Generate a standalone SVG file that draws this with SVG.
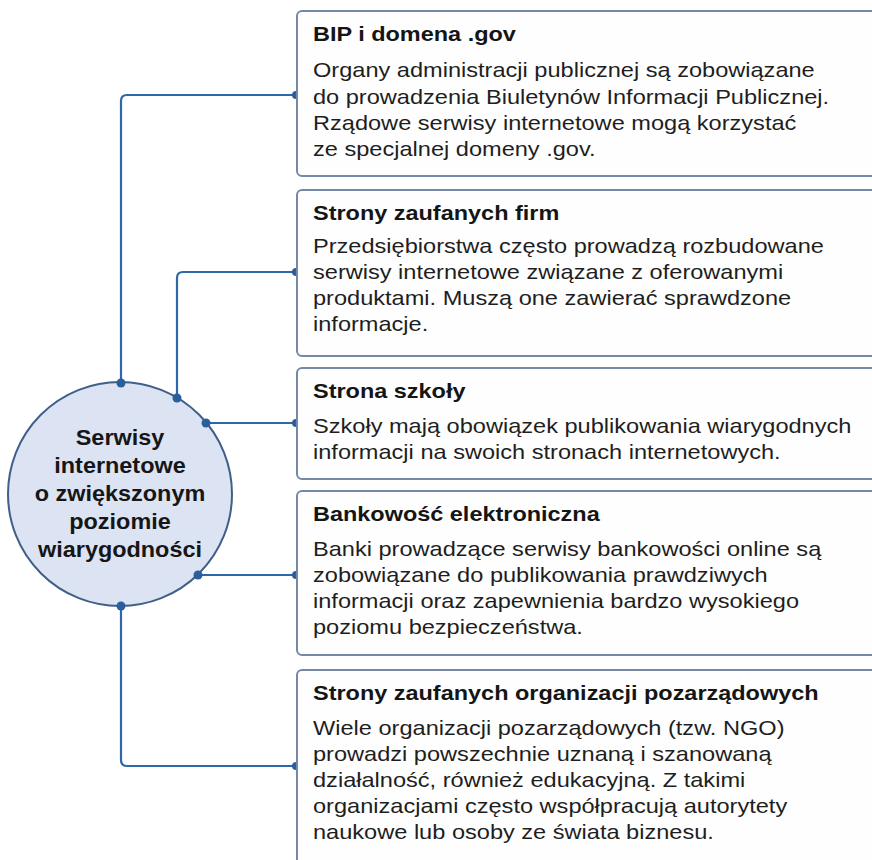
<svg xmlns="http://www.w3.org/2000/svg" width="872" height="860" viewBox="0 0 872 860">
<style>
.box{fill:#fefefe;stroke:#7589a6;stroke-width:2}
.con{fill:none;stroke:#2f68a8;stroke-width:2.2}
.dot{fill:#2a5f9c}
.h{font-family:"Liberation Sans",Arial,sans-serif;font-size:20.5px;font-weight:bold;fill:#151515}
.b{font-family:"Liberation Sans",Arial,sans-serif;font-size:20.6px;fill:#1e1e1e}
.c{font-family:"Liberation Sans",Arial,sans-serif;font-size:21.5px;font-weight:bold;fill:#161616;text-anchor:middle}
</style>
<rect width="872" height="860" fill="#ffffff"/>
<g id="connectors">
<path class="con" d="M121,383 V101 Q121,95 127,95 H296"/>
<path class="con" d="M177,398 V278 Q177,272 183,272 H296"/>
<path class="con" d="M206,423 H296"/>
<path class="con" d="M198,575 H296"/>
<path class="con" d="M121,606 V760 Q121,766 127,766 H296"/>
<circle class="dot" cx="296" cy="95" r="4"/>
<circle class="dot" cx="296" cy="272" r="4"/>
<circle class="dot" cx="296" cy="423" r="4"/>
<circle class="dot" cx="296" cy="575" r="4"/>
<circle class="dot" cx="296" cy="766" r="4"/>
</g>
<g id="center">
<circle cx="120" cy="494" r="112" fill="#dce3f3" stroke="#3f5f88" stroke-width="2"/>
<circle class="dot" cx="121" cy="383" r="4.5"/>
<circle class="dot" cx="177" cy="398" r="4.5"/>
<circle class="dot" cx="206" cy="423" r="4.5"/>
<circle class="dot" cx="198" cy="575" r="4.5"/>
<circle class="dot" cx="121" cy="606" r="4.5"/>
<g transform="translate(120 0) scale(1.09 1)">
<text class="c" x="0" y="445">Serwisy</text>
<text class="c" x="0" y="473">internetowe</text>
<text class="c" x="0" y="501">o zwiększonym</text>
<text class="c" x="0" y="529">poziomie</text>
<text class="c" x="0" y="557">wiarygodności</text>
</g>
</g>
<g id="box1">
<rect class="box" x="297" y="11" width="600" height="165" rx="5"/>
<g transform="translate(313 0) scale(1.145 1)">
<text class="h" x="0" y="41">BIP i domena .gov</text>
<text class="b" x="0" y="77">Organy administracji publicznej są zobowiązane</text>
<text class="b" x="0" y="104">do prowadzenia Biuletynów Informacji Publicznej.</text>
<text class="b" x="0" y="130">Rządowe serwisy internetowe mogą korzystać</text>
<text class="b" x="0" y="156">ze specjalnej domeny .gov.</text>
</g>
</g>
<g id="box2">
<rect class="box" x="297" y="190" width="600" height="166" rx="5"/>
<g transform="translate(313 0) scale(1.145 1)">
<text class="h" x="0" y="220">Strony zaufanych firm</text>
<text class="b" x="0" y="253">Przedsiębiorstwa często prowadzą rozbudowane</text>
<text class="b" x="0" y="279">serwisy internetowe związane z oferowanymi</text>
<text class="b" x="0" y="305">produktami. Muszą one zawierać sprawdzone</text>
<text class="b" x="0" y="331">informacje.</text>
</g>
</g>
<g id="box3">
<rect class="box" x="297" y="368" width="600" height="111" rx="5"/>
<g transform="translate(313 0) scale(1.145 1)">
<text class="h" x="0" y="398">Strona szkoły</text>
<text class="b" x="0" y="433">Szkoły mają obowiązek publikowania wiarygodnych</text>
<text class="b" x="0" y="459">informacji na swoich stronach internetowych.</text>
</g>
</g>
<g id="box4">
<rect class="box" x="297" y="491" width="600" height="164" rx="5"/>
<g transform="translate(313 0) scale(1.145 1)">
<text class="h" x="0" y="521">Bankowość elektroniczna</text>
<text class="b" x="0" y="556">Banki prowadzące serwisy bankowości online są</text>
<text class="b" x="0" y="582">zobowiązane do publikowania prawdziwych</text>
<text class="b" x="0" y="608">informacji oraz zapewnienia bardzo wysokiego</text>
<text class="b" x="0" y="634">poziomu bezpieczeństwa.</text>
</g>
</g>
<g id="box5">
<rect class="box" x="297" y="670" width="600" height="220" rx="5"/>
<g transform="translate(313 0) scale(1.145 1)">
<text class="h" x="0" y="700">Strony zaufanych organizacji pozarządowych</text>
<text class="b" x="0" y="735">Wiele organizacji pozarządowych (tzw. NGO)</text>
<text class="b" x="0" y="761">prowadzi powszechnie uznaną i szanowaną</text>
<text class="b" x="0" y="787">działalność, również edukacyjną. Z takimi</text>
<text class="b" x="0" y="813">organizacjami często współpracują autorytety</text>
<text class="b" x="0" y="839">naukowe lub osoby ze świata biznesu.</text>
</g>
</g>
</svg>
